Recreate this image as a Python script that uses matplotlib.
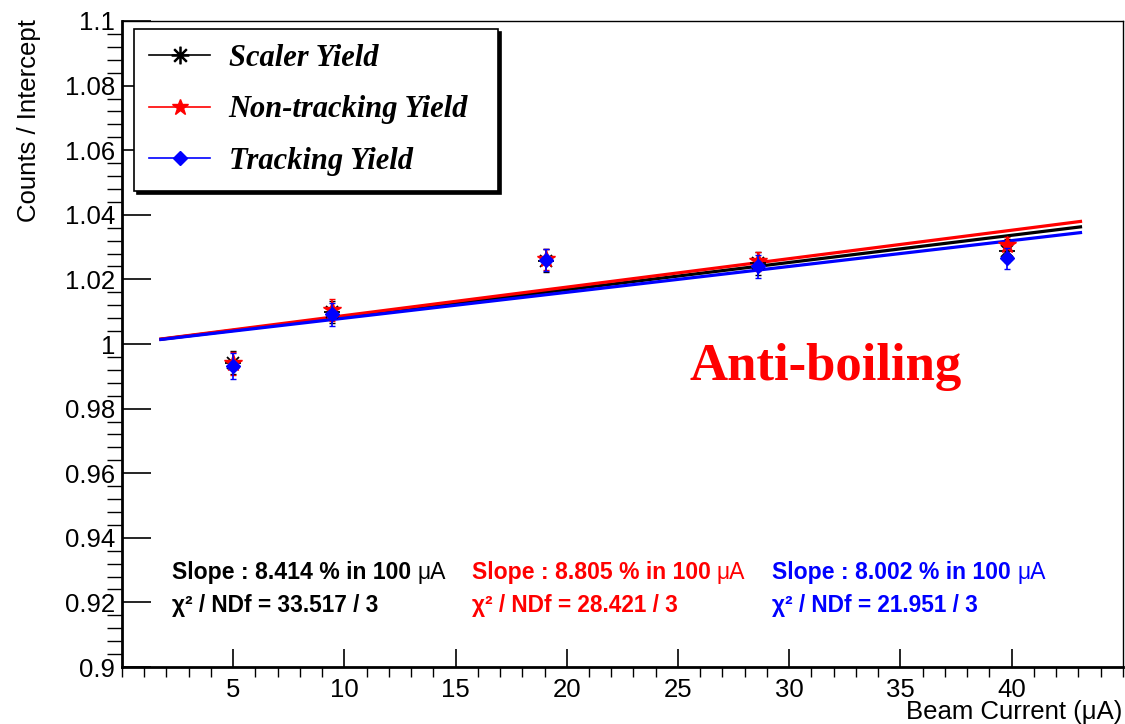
import matplotlib
matplotlib.use('Agg')
import matplotlib.pyplot as plt
from matplotlib.ticker import MultipleLocator, FormatStrFormatter
from matplotlib.lines import Line2D
import numpy as np

plt.rcParams['font.family'] = ['Liberation Sans', 'DejaVu Sans']

# データ
current = [5.0, 9.45, 19.05, 28.6, 39.8]
scaler = [0.9942, 1.0099, 1.0258, 1.0250, 1.0289]
scaler_err = [0.0035, 0.0035, 0.0035, 0.0035, 0.0035]
nontrack = [0.9940, 1.0105, 1.0262, 1.0256, 1.0307]
nontrack_err = [0.0035, 0.0033, 0.0033, 0.0030, 0.0025]
track = [0.9932, 1.0092, 1.0260, 1.0240, 1.0265]
track_err = [0.0040, 0.0035, 0.0034, 0.0035, 0.0033]

# フィット結果（傾き：%/100 uA）
slopes = [8.414, 8.805, 8.002]
chi2 = [33.517, 28.421, 21.951]
ndf = 3
fit_range = [1.75, 43.1]

names = ['Scaler Yield', 'Non-tracking Yield', 'Tracking Yield']
colors = ['black', 'red', 'blue']

fig = plt.figure(figsize=(11.25, 7.24), dpi=100)
ax = fig.add_axes([0.1084, 0.0787, 0.8896, 0.8923])

# フィット直線
xs = np.array(fit_range)
for s, c in zip(slopes, colors):
    ax.plot(xs, 1 + s / 100 / 100 * xs, color=c, lw=2.3, zorder=2)

# データ点
ax.errorbar(current, scaler, yerr=scaler_err, fmt='none', ecolor='black', elinewidth=1.2, capsize=2.5, zorder=3)
ax.plot(current, scaler, ls='none', marker='x', color='black', ms=9, mew=1.3, zorder=3)
ax.plot(current, scaler, ls='none', marker='+', color='black', ms=11, mew=1.3, zorder=3)
ax.errorbar(current, nontrack, yerr=nontrack_err, fmt='none', ecolor='red', elinewidth=1.2, capsize=2.5, zorder=4)
ax.plot(current, nontrack, ls='none', marker='*', color='red', ms=13, zorder=4)
ax.errorbar(current, track, yerr=track_err, fmt='none', ecolor='blue', elinewidth=1.2, capsize=2.5, zorder=5)
ax.plot(current, track, ls='none', marker='D', color='blue', ms=7, zorder=5)

ax.set_xlim(0, 45)
ax.set_ylim(0.9, 1.1)
ax.xaxis.set_major_locator(MultipleLocator(5))
ax.xaxis.set_minor_locator(MultipleLocator(1))
ax.yaxis.set_major_locator(MultipleLocator(0.02))
ax.yaxis.set_minor_locator(MultipleLocator(0.004))
ax.yaxis.set_major_formatter(FormatStrFormatter('%g'))
ax.set_xticks([5, 10, 15, 20, 25, 30, 35, 40])
ax.tick_params(axis='both', direction='in', labelsize=18.5, width=1.2)
ax.tick_params(axis='x', which='major', length=13, pad=8)
ax.tick_params(axis='x', which='minor', length=7, width=1.0)
ax.tick_params(axis='y', which='major', length=21, pad=5)
ax.tick_params(axis='y', which='minor', length=10.5, width=1.0)
for side in ['left', 'bottom']:
    ax.spines[side].set_linewidth(2.0)
for side in ['top', 'right']:
    ax.spines[side].set_linewidth(1.0)

fig.text(0.998, 0.0, 'Beam Current (\u03bcA)', ha='right', va='bottom', fontsize=18.5)
fig.text(0.026, 0.973, 'Counts / Intercept', ha='center', va='top', rotation=90, fontsize=18.5)

# 凡例
handles = [
    Line2D([], [], color='black', lw=1.2, marker='$\u2733$', ms=12),
    Line2D([], [], color='red', lw=1.2, marker='*', ms=12),
    Line2D([], [], color='blue', lw=1.2, marker='D', ms=7),
]
leg = ax.legend(handles, names, loc='upper left', bbox_to_anchor=(0.012, 0.988, 0.364, 0),
                mode='expand',
                prop={'family': 'Liberation Serif', 'weight': 'bold', 'style': 'italic', 'size': 22},
                frameon=True, fancybox=False, shadow={'color': 'black', 'alpha': 1.0},
                edgecolor='black', handlelength=2.0, borderpad=0.5, labelspacing=0.73,
                handletextpad=0.6, borderaxespad=0)
leg.get_frame().set_linewidth(1.2)

ax.text(0.7035, 0.465, 'Anti-boiling', transform=ax.transAxes, ha='center', va='center',
        color='red', fontsize=38, fontweight='bold', family='Liberation Serif')

# フィット結果の表示
xpos = [0.050, 0.3495, 0.6495]
fig.canvas.draw()
renderer = fig.canvas.get_renderer()
for i in range(3):
    t = ax.text(xpos[i], 0.147, 'Slope : %.3f %% in 100 ' % slopes[i], transform=ax.transAxes,
                color=colors[i], fontsize=16.6, fontweight='bold', ha='left', va='center')
    ax.text(xpos[i], 0.096, '\u03c7\u00b2 / NDf = %.3f / %d' % (chi2[i], ndf), transform=ax.transAxes,
            color=colors[i], fontsize=16.3, fontweight='bold', ha='left', va='center')
    bb = t.get_window_extent(renderer).transformed(ax.transAxes.inverted())
    ax.text(bb.x1, 0.147, '\u03bcA', transform=ax.transAxes,
            color=colors[i], fontsize=16.6, ha='left', va='center')

fig.savefig('out.png', dpi=100)
